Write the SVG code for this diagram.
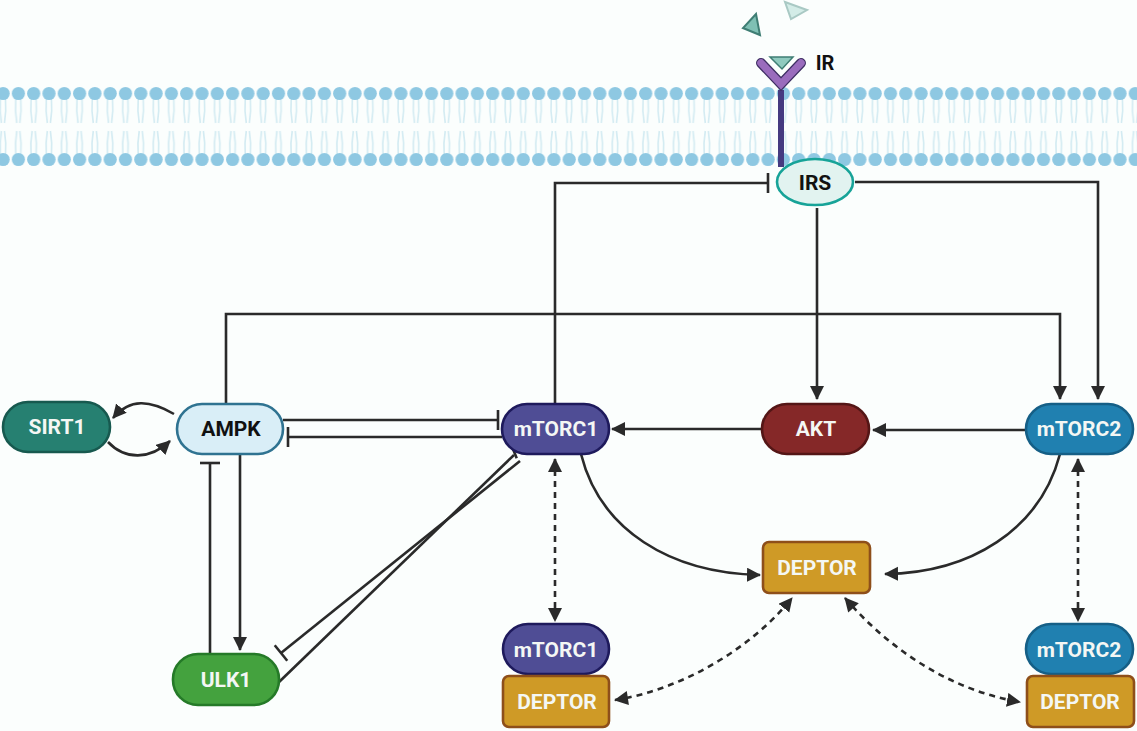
<svg xmlns="http://www.w3.org/2000/svg" width="1137" height="731" viewBox="0 0 1137 731">
<style>
.c{fill:none;stroke:#2a2a2a;stroke-width:2.6}
.a{marker-end:url(#arrow)}
.t{marker-end:url(#tee)}
.d{stroke-dasharray:6 5}
.s{marker-start:url(#arrowS)}
.n{stroke-width:2.6}
text{font-family:Roboto,"Liberation Sans",sans-serif;font-weight:700;font-size:21px;text-anchor:middle;dominant-baseline:central}
.w{fill:#f4f7f4}
.k{fill:#111}
.dep{fill:#cf9a26;stroke:#8e4f1a}
.m1{fill:#4f4d95;stroke:#1e1a5c}
.m2{fill:#2080b0;stroke:#155f86}
</style>
<defs>
<marker id="arrow" markerUnits="userSpaceOnUse" markerWidth="16" markerHeight="16" refX="13" refY="7" orient="auto"><path d="M0 0L14 7L0 14Z" fill="#2a2a2a"/></marker>
<marker id="arrowS" markerUnits="userSpaceOnUse" markerWidth="16" markerHeight="16" refX="1" refY="7" orient="auto"><path d="M14 0L0 7L14 14Z" fill="#2a2a2a"/></marker>
<marker id="tee" markerUnits="userSpaceOnUse" markerWidth="6" markerHeight="22" refX="3" refY="11" orient="auto"><path d="M3 1V21" stroke="#2a2a2a" stroke-width="2.6"/></marker>
<pattern id="lipid" patternUnits="userSpaceOnUse" x="-4.5" y="85" width="15.3" height="84">
<path d="M5 14Q4 26 6 38M10 14Q11 26 9 38M5 70Q4 58 6 46M10 70Q11 58 9 46" fill="none" stroke="#d3ebf2" stroke-width="1.6"/>
<circle cx="7.6" cy="8.5" r="6.6" fill="#8ec8e2"/>
<circle cx="7.6" cy="74.5" r="6.6" fill="#8ec8e2"/>
</pattern>
</defs>
<rect width="1137" height="731" fill="#fbfefd"/>
<g id="membrane"><rect x="0" y="85" width="1137" height="84" fill="url(#lipid)"/></g>
<g id="ligands">
<path d="M756 14L743 28L760 35Z" fill="#7fc0b4" stroke="#3f7e74" stroke-width="2"/>
<path d="M785 2L807 10L791 19Z" fill="#d3ece7" stroke="#a9c9c4" stroke-width="2"/>
</g>
<g id="connectors">
<path class="c t" d="M555 404V183H768"/>
<path class="c a" d="M855 182H1098V399"/>
<path class="c a" d="M817 208V399"/>
<path class="c a" d="M226 404V314H1060V399"/>
<path class="c t" d="M283 420H498"/>
<path class="c t" d="M502 437H288"/>
<path class="c a" d="M762 429H612"/>
<path class="c a" d="M1026 430H873"/>
<path class="c a" d="M174 414C150 400 130 398 113 418" stroke-width="2.6"/>
<path class="c a" d="M108 442C125 460 150 460 170 441"/>
<path class="c t" d="M210 654V463"/>
<path class="c a" d="M240 454V650"/>
<path class="c t" d="M518 447V447M513 449" />
<path class="c t" d="M520 461L281 653"/>
<path class="c t" d="M279 684L518 460" style="display:none"/>
<path class="c" d="M278 683L514 455"/>
<path class="c a" d="M581 454C600 530 670 573 760 575"/>
<path class="c a" d="M1060 454C1040 530 970 573 885 574"/>
<path class="c a s d" d="M555 459V621"/>
<path class="c a s d" d="M1078 459V621"/>
<path class="c a s d" d="M615 700C680 690 750 650 792 598"/>
<path class="c a s d" d="M845 598C890 650 950 690 1020 702"/>
</g>
<g id="sirt1"><rect class="n" x="3" y="402" width="107" height="50" rx="25" fill="#268071" stroke="#17594f"/><text class="w" x="57" y="427">SIRT1</text></g>
<g id="ampk"><rect class="n" x="177" y="404" width="106" height="50" rx="25" fill="#d9eef7" stroke="#2f7391"/><text class="k" x="231" y="429">AMPK</text></g>
<g id="mtorc1"><rect class="n m1" x="502" y="404" width="107" height="50" rx="25"/><text class="w" x="556" y="429">mTORC1</text></g>
<g id="akt"><rect class="n" x="762" y="404" width="107" height="50" rx="25" fill="#852828" stroke="#541616"/><text class="w" x="816" y="429">AKT</text></g>
<g id="mtorc2"><rect class="n m2" x="1026" y="404" width="107" height="50" rx="25"/><text class="w" x="1079" y="429">mTORC2</text></g>
<g id="deptor"><rect class="n dep" x="763" y="542" width="107" height="51" rx="6"/><text class="w" x="817" y="568">DEPTOR</text></g>
<g id="ulk1"><rect class="n" x="173" y="654" width="106" height="51" rx="25" fill="#44a23e" stroke="#257a28"/><text class="w" x="226" y="680">ULK1</text></g>
<g id="mtorc1-deptor">
<rect class="n m1" x="503" y="624" width="106" height="50" rx="25"/><text class="w" x="556" y="650">mTORC1</text>
<rect class="n dep" x="503" y="676" width="106" height="51" rx="6"/><text class="w" x="557" y="702">DEPTOR</text>
</g>
<g id="mtorc2-deptor">
<rect class="n m2" x="1026" y="624" width="107" height="50" rx="25"/><text class="w" x="1079" y="650">mTORC2</text>
<rect class="n dep" x="1027" y="676" width="107" height="51" rx="6"/><text class="w" x="1080" y="702">DEPTOR</text>
</g>
<g id="ir">
<path d="M781 90V167" fill="none" stroke="#453a80" stroke-width="6"/>
<path d="M761 63L781 84L801 63" fill="none" stroke="#3f2f63" stroke-width="10" stroke-linecap="round" stroke-linejoin="miter"/>
<path d="M761 63L781 84L801 63" fill="none" stroke="#9a6cbd" stroke-width="7.5" stroke-linecap="round" stroke-linejoin="miter"/>
<path d="M770 57H793L782 69Z" fill="#8fcabf" stroke="#3f7e74" stroke-width="1.5"/>
<text class="k" x="825" y="63" style="font-size:20px">IR</text>
</g>
<g id="irs"><ellipse cx="815" cy="182" rx="38" ry="23" fill="#e2f3f0" stroke="#17a398" stroke-width="2.6"/><text class="k" x="815" y="183">IRS</text></g>
</svg>
